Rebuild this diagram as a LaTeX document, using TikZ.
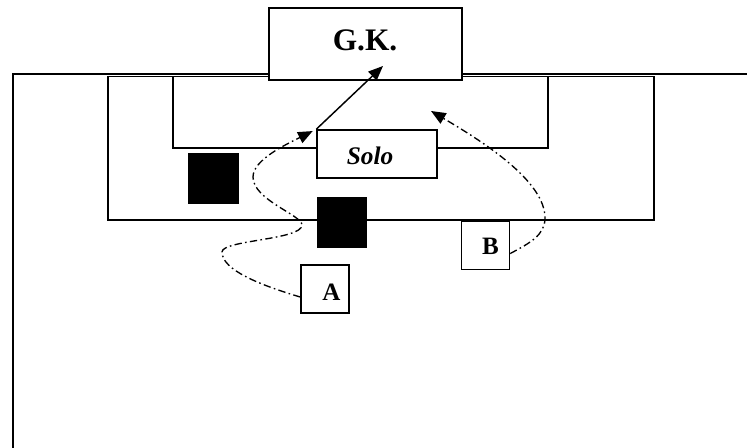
\documentclass[tikz,border=0pt]{standalone}
\usepackage{fontspec}
\setmainfont{Liberation Serif}
\usetikzlibrary{arrows.meta}
\tikzset{
  fieldline/.style={line width=1.5pt},
  areabox/.style={line width=1.1pt},
  whitebox/.style={draw, line width=1.1pt, fill=white, inner sep=0pt},
  blackbox/.style={draw, fill=black, inner sep=0pt, minimum width=37.5pt, minimum height=37.5pt},
  lbl/.style={inner sep=0pt, font=\bfseries\fontsize{18.75}{20}\selectfont},
  solidarrow/.style={line width=1.1pt, -{Triangle[length=11pt,width=9pt]}},
  dasharrow/.style={line width=1pt, dash pattern=on 5.5pt off 2.5pt on 1.2pt off 2.5pt, -{Triangle[length=11pt,width=9pt]}}
}
\begin{document}
\begin{tikzpicture}[x=0.75pt,y=-0.75pt]
\useasboundingbox (0,0) rectangle (747,448);
% field
\draw[fieldline] (13,448) -- (13,74) -- (747,74);
% penalty area and goal area
\draw[areabox] (108,76.5) rectangle (654,220);
\draw[areabox] (173,76.5) rectangle (548,148);
% boxes
\node[whitebox, minimum width=144.75pt, minimum height=54pt] (gk) at (365.5,44) {};
\node[lbl, font=\bfseries\fontsize{23.5}{25}\selectfont] (gktext) at (365,40) {G.K.};
\node[whitebox, minimum width=90pt, minimum height=36pt] (solo) at (377,154) {};
\node[lbl, font=\bfseries\itshape\fontsize{19}{20}\selectfont] (solotext) at (370,156) {Solo};
\node[blackbox] (sq1) at (213,178) {};
\node[blackbox, minimum width=36.75pt] (sq2) at (341.5,222) {};
\node[whitebox, minimum width=36pt, minimum height=36pt] (a) at (325,289) {};
\node[lbl] (atext) at (331.5,292.5) {A};
\node[whitebox, minimum width=36pt, minimum height=36pt] (b) at (485.5,245.5) {};
\node[lbl] (btext) at (490.5,246.5) {B};
% connectors
\coordinate (gktip) at (383,66);
\coordinate (btip) at (431,111);
\draw[solidarrow] (solo.north west) -- (gktip);
\draw[dasharrow, shorten >=3pt] (a.198) .. controls (260,285) and (222,270) .. (222,252)
  .. controls (222,240) and (302,240) .. (302,225)
  .. controls (302,215) and (253,200) .. (253,177)
  .. controls (253,160) and (285,145) .. (solo.north west);
\draw[dasharrow] (b.-18) .. controls (530,243) and (545,235) .. (545,218)
  .. controls (545,180) and (480,140) .. (btip);
\end{tikzpicture}
\end{document}
